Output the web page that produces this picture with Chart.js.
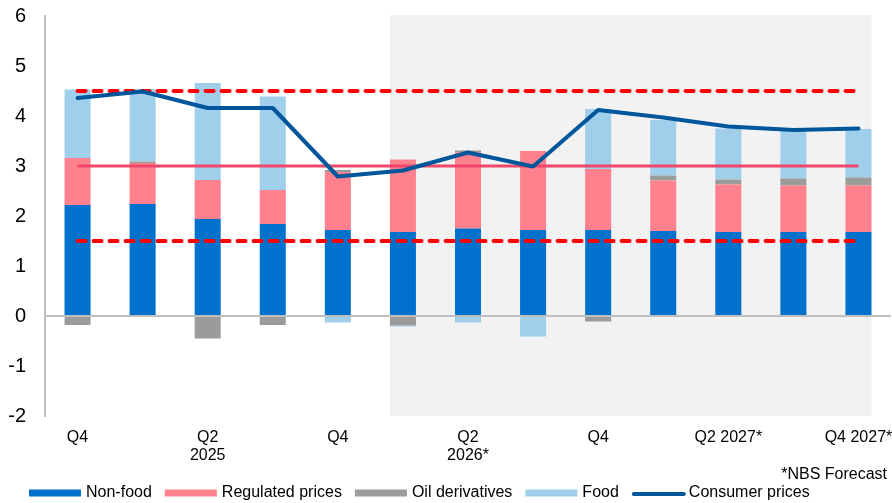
<!DOCTYPE html>
<html>
<head>
<meta charset="utf-8">
<script src="https://cdn.jsdelivr.net/npm/chart.js@4"></script>
<style>
    html, body { margin: 0; padding: 0; background: #fff; }
</style>
</head>
<body>
<canvas id="myChartCpi" width="892" height="503"></canvas>
<script>
// quarters, Q4 2024 .. Q4 2027 (forecast from Q1 2026)
const quarters = ['Q4 2024', 'Q1 2025', 'Q2 2025', 'Q3 2025', 'Q4 2025',
    'Q1 2026*', 'Q2 2026*', 'Q3 2026*', 'Q4 2026*',
    'Q1 2027*', 'Q2 2027*', 'Q3 2027*', 'Q4 2027*'];
const tickLabels = ['Q4', '', ['Q2', '2025'], '', 'Q4', '', ['Q2', '2026*'], '', 'Q4', '', 'Q2 2027*', '', 'Q4 2027*'];
const yTicks = [-2, -1, 0, 1, 2, 3, 4, 5, 6];

// contributions, p.p.
const nonFood   = [2.22, 2.24, 1.94, 1.84, 1.72, 1.68, 1.75, 1.72, 1.72, 1.70, 1.68, 1.68, 1.68];
const regulated = [0.94, 0.82, 0.78, 0.68, 1.16, 1.45, 1.52, 1.58, 1.22, 1.01, 0.95, 0.93, 0.93];
const oil       = [-0.18, 0.03, -0.45, -0.18, 0.04, -0.19, 0.04, -0.02, -0.11, 0.10, 0.10, 0.14, 0.16];
const food      = [1.37, 1.45, 1.94, 1.87, -0.13, -0.02, -0.13, -0.39, 1.20, 1.11, 1.02, 0.96, 0.97];
const consumer  = [4.36, 4.49, 4.16, 4.16, 2.79, 2.91, 3.27, 2.99, 4.12, 3.97, 3.79, 3.72, 3.75];

// target 3% +/- 1.5 p.p.
const target    = [3, 3, 3, 3, 3, 3, 3, 3, 3, 3, 3, 3, 3];
const bandUpper = [4.5, 4.5, 4.5, 4.5, 4.5, 4.5, 4.5, 4.5, 4.5, 4.5, 4.5, 4.5, 4.5];
const bandLower = [1.5, 1.5, 1.5, 1.5, 1.5, 1.5, 1.5, 1.5, 1.5, 1.5, 1.5, 1.5, 1.5];

const forecastFrom = 5;
const FONT = 'Liberation Sans, Arial, sans-serif';

Chart.defaults.font.family = FONT;
Chart.defaults.color = '#000';

// grey background behind forecast quarters
const forecastShade = {
    id: 'forecastShade',
    beforeDraw(chart) {
        let ctx = chart.ctx;
        let area = chart.chartArea;
        let bars = chart.getDatasetMeta(3).data;
        let first = bars[forecastFrom];
        let last = bars[bars.length - 1];
        let left = first.x - first.width / 2;
        let right = last.x + last.width / 2;
        ctx.save();
        ctx.fillStyle = '#F2F2F2';
        ctx.fillRect(left, area.top - 1, right - left, area.bottom - area.top + 1);
        ctx.restore();
    }
};

// legend row + footnote
const bottomLegend = {
    id: 'bottomLegend',
    afterDraw(chart) {
        let ctx = chart.ctx;
        let y = 493;
        let x = 29;
        ctx.save();
        ctx.font = '16px ' + FONT;
        ctx.textBaseline = 'middle';
        ctx.fillStyle = '#000';
        ctx.textAlign = 'right';
        ctx.fillText('*NBS Forecast', 887, 475);
        ctx.textAlign = 'left';
        let items = chart.data.datasets.filter(d => d.legendPos !== undefined);
        items.sort((a, b) => a.legendPos - b.legendPos);
        items.forEach(function(d){
            if(d.type === 'line'){
                ctx.strokeStyle = d.borderColor;
                ctx.lineWidth = 4;
                ctx.lineCap = 'round';
                ctx.beginPath();
                ctx.moveTo(x + 2, y + 1);
                ctx.lineTo(x + 52, y + 1);
                ctx.stroke();
            } else {
                ctx.fillStyle = d.backgroundColor;
                ctx.fillRect(x, y - 3.5, 52, 7);
            }
            x += 57;
            ctx.fillStyle = '#000';
            ctx.fillText(d.label, x, y);
            x += ctx.measureText(d.label).width + 13;
        });
        ctx.restore();
    }
};

function barSet(label, data, color, pos){
    return {
        type: 'bar',
        label: label,
        data: data,
        backgroundColor: color,
        borderWidth: 0,
        barPercentage: 0.4,
        categoryPercentage: 1,
        stack: 'cpi',
        order: 2,
        legendPos: pos
    };
}

function refLine(label, data, color, dashed){
    return {
        type: 'line',
        label: label,
        data: data,
        stack: label,
        borderColor: color,
        borderWidth: dashed ? 4 : 3,
        borderDash: dashed ? [8, 8] : [],
        borderCapStyle: dashed ? 'round' : 'butt',
        pointRadius: 0,
        fill: false,
        order: 1
    };
}

let canvas = document.getElementById('myChartCpi');
let myChartCpi = new Chart(canvas, {
    data: {
        labels: quarters,
        datasets: [
            {
                type: 'line',
                label: 'Consumer prices',
                data: consumer,
                stack: 'consumer',
                borderColor: '#00569B',
                borderWidth: 4,
                borderCapStyle: 'round',
                borderJoinStyle: 'round',
                tension: 0,
                pointRadius: 0,
                fill: false,
                order: 0,
                legendPos: 4
            },
            refLine('Target', target, '#F0466A', false),
            refLine('Upper band', bandUpper, '#FF0000', true),
            barSet('Non-food', nonFood, '#0072CE', 0),
            barSet('Regulated prices', regulated, '#FF818D', 1),
            barSet('Oil derivatives', oil, '#9B9B9B', 2),
            barSet('Food', food, '#A0CFEB', 3),
            refLine('Lower band', bandLower, '#FF0000', true)
        ]
    },
    options: {
        responsive: false,
        animation: false,
        layout: { padding: { top: 16, right: 1, bottom: 37, left: 0 } },
        plugins: {
            legend: { display: false },
            tooltip: { enabled: false }
        },
        scales: {
            x: {
                stacked: true,
                grid: { display: false },
                border: { display: false },
                ticks: {
                    autoSkip: false,
                    maxRotation: 0,
                    padding: 4,
                    font: { size: 16, lineHeight: 1.15 },
                    callback: (v, i) => tickLabels[i]
                },
                afterFit(scale){
                    scale.height = 50;
                    scale.paddingLeft = 0;
                    scale.paddingRight = 0;
                }
            },
            y: {
                stacked: true,
                min: yTicks[0],
                max: yTicks[yTicks.length - 1],
                afterBuildTicks(scale){ scale.ticks = yTicks.map(v => ({value: v})); },
                ticks: { padding: 19, font: { size: 20 } },
                grid: {
                    drawTicks: false,
                    lineWidth: 2,
                    color: c => c.tick && c.tick.value === 0 ? '#BFBFBF' : 'rgba(0,0,0,0)'
                },
                border: { display: true, color: '#BFBFBF', width: 2 },
                afterFit(scale){
                    scale.width = 45;
                    scale.paddingTop = 0;
                    scale.paddingBottom = 0;
                }
            }
        }
    },
    plugins: [forecastShade, bottomLegend]
});
</script>
</body>
</html>
